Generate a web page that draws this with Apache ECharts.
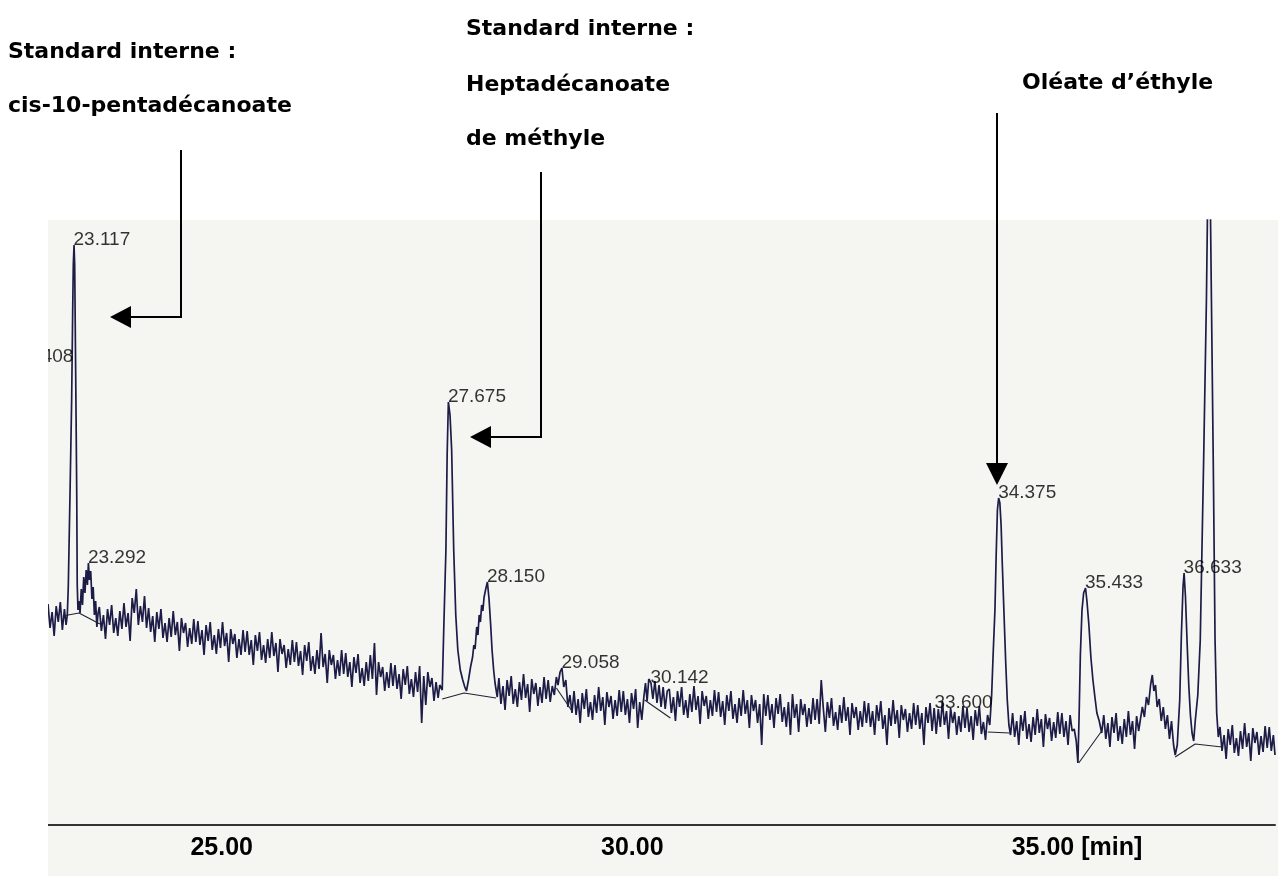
<!DOCTYPE html>
<html><head><meta charset="utf-8">
<script src="https://cdn.jsdelivr.net/npm/echarts@6.0.0/dist/echarts.min.js"></script>
<style>html,body{margin:0;padding:0;background:#fff}#c{width:1278px;height:876px}</style>
</head><body><div id="c"></div>
<script>
// ---- data (time in min, detector response in arbitrary units) ----
const tickValues = [25, 30, 35];
const tickLabels = ['25.00', '30.00', '35.00 [min]'];

const peakTimes  = [22.408, 23.117, 23.292, 27.675, 28.150, 29.058, 30.142, 33.600, 34.375, 35.433, 36.633];
const peakApex   = [463, 580, 262, 423, 243, 157, 142, 117, 327, 237, 252];
const peakLabels = ['22.408','23.117','23.292','27.675','28.150','29.058','30.142','33.600','34.375','35.433','36.633'];

const trace = [
[22.800,221],[22.825,197],[22.850,213],[22.875,189],[22.900,219],[22.925,203],[22.950,223],[22.975,195],[23.000,216],[23.020,200],[23.035,210],
[23.047,238],[23.07,340],[23.088,425],[23.10,510],[23.108,560],[23.117,580],[23.125,560],[23.14,425],[23.15,330],[23.156,240],[23.165,215],[23.175,224],
[23.19,212],[23.205,236],[23.22,220],[23.235,248],[23.25,232],[23.265,255],[23.28,240],[23.292,262],[23.305,245],[23.32,254],[23.335,226],[23.35,238],[23.365,210],[23.38,224],[23.395,198],[23.41,212],
[23.425,218],[23.450,194],[23.475,210],[23.500,186],[23.525,216],[23.550,200],[23.575,220],[23.600,192],[23.625,207],[23.650,189],[23.675,214],[23.700,196],
[23.725,222],[23.750,198],[23.775,212],[23.800,184],[23.825,227],[23.850,212],[23.875,236],[23.900,200],[23.925,219],[23.950,203],[23.975,229],[24.000,197],
[24.025,217],[24.050,193],[24.075,209],[24.100,183],[24.125,213],[24.150,196],[24.175,216],[24.200,187],[24.225,202],[24.250,183],[24.275,207],[24.300,188],
[24.325,214],[24.350,190],[24.375,203],[24.400,174],[24.425,207],[24.450,192],[24.475,202],[24.500,178],[24.525,197],[24.550,181],[24.575,206],[24.600,183],
[24.625,204],[24.650,180],[24.675,195],[24.700,170],[24.725,200],[24.750,184],[24.775,203],[24.800,175],[24.825,190],[24.850,171],[24.875,196],[24.900,177],
[24.925,203],[24.950,179],[24.975,192],[25.000,163],[25.025,196],[25.050,181],[25.075,191],[25.100,167],[25.125,186],[25.150,170],[25.175,195],[25.200,173],
[25.225,194],[25.250,170],[25.275,185],[25.300,160],[25.325,190],[25.350,174],[25.375,193],[25.400,165],[25.425,180],[25.450,162],[25.475,186],[25.500,167],
[25.525,193],[25.550,169],[25.575,182],[25.600,153],[25.625,186],[25.650,171],[25.675,180],[25.700,157],[25.725,176],[25.750,160],[25.775,185],[25.800,163],
[25.825,183],[25.850,159],[25.875,174],[25.900,150],[25.925,180],[25.950,164],[25.975,183],[26.000,154],[26.025,169],[26.050,151],[26.075,175],[26.100,156],
[26.125,192],[26.150,158],[26.175,171],[26.200,142],[26.225,175],[26.250,160],[26.275,170],[26.300,146],[26.325,165],[26.350,149],[26.375,175],[26.400,151],
[26.425,172],[26.450,148],[26.475,163],[26.500,138],[26.525,168],[26.550,152],[26.575,171],[26.600,142],[26.625,157],[26.650,139],[26.675,163],[26.700,144],
[26.725,170],[26.750,146],[26.775,182],[26.800,130],[26.825,163],[26.850,148],[26.875,158],[26.900,134],[26.925,153],[26.950,137],[26.975,162],[27.000,139],
[27.025,160],[27.050,136],[27.075,151],[27.100,126],[27.125,156],[27.150,140],[27.175,159],[27.200,131],[27.225,146],[27.250,128],[27.275,153],[27.300,133],
[27.325,159],[27.350,102],[27.375,149],[27.400,120],[27.425,153],[27.450,138],[27.475,147],[27.500,124],[27.525,143],[27.550,127],[27.570,140],
[27.60,135],[27.62,200],[27.645,275],[27.66,370],[27.675,423],[27.695,410],[27.715,375],[27.74,275],[27.765,210],[27.79,175],[27.82,155],[27.85,145],[27.875,138],[27.895,134],
[27.92,145],[27.945,158],[27.97,168],[27.985,180],[28.00,176],[28.02,198],[28.035,190],[28.05,210],[28.065,203],[28.08,220],[28.095,214],[28.11,228],[28.13,236],[28.15,243],
[28.17,226],[28.19,200],[28.206,176],[28.225,156],[28.243,142],[28.27,128],
[28.290,147],[28.315,121],[28.340,139],[28.365,115],[28.390,145],[28.415,129],[28.440,149],[28.465,121],[28.490,136],[28.515,118],[28.540,143],[28.565,125],
[28.590,151],[28.615,127],[28.640,141],[28.665,113],[28.690,146],[28.715,131],[28.740,142],[28.765,119],[28.790,138],[28.815,122],[28.840,148],[28.865,126],
[28.890,145],[28.915,123],[28.940,139],
[28.965,130],[28.99,148],[29.01,140],[29.035,153],[29.058,157],[29.08,138],[29.105,145],[29.13,118],[29.155,130],[29.18,112],
[29.205,134],[29.230,110],[29.255,126],[29.280,102],[29.305,132],[29.330,116],[29.355,136],[29.380,108],[29.405,123],[29.430,105],[29.455,130],[29.480,112],
[29.505,138],[29.530,114],[29.555,128],[29.580,100],[29.605,133],[29.630,118],[29.655,129],[29.680,106],[29.705,125],[29.730,109],[29.755,135],[29.780,113],
[29.805,134],[29.830,110],[29.855,126],[29.880,102],[29.905,132],[29.930,116],[29.955,136],[29.980,97],[30.005,123],[30.030,105],
[30.055,128],[30.075,142],[30.095,124],[30.115,146],[30.142,142],[30.165,126],[30.19,144],[30.215,122],[30.24,140],[30.265,118],[30.29,138],[30.315,116],[30.34,134],
[30.365,136],[30.390,112],[30.415,128],[30.440,104],[30.465,134],[30.490,118],[30.515,138],[30.540,110],[30.565,125],[30.590,107],[30.615,131],[30.640,113],
[30.665,139],[30.690,115],[30.715,129],[30.740,101],[30.765,134],[30.790,119],[30.815,129],[30.840,106],[30.865,125],[30.890,109],[30.915,135],[30.940,113],
[30.965,133],[30.990,108],[31.015,124],[31.040,100],[31.065,130],[31.090,114],[31.115,134],[31.140,106],[31.165,121],[31.190,102],[31.215,127],[31.240,109],
[31.265,135],[31.290,111],[31.315,125],[31.340,97],[31.365,130],[31.390,114],[31.415,125],[31.440,102],[31.465,121],[31.490,80],[31.515,131],[31.540,109],
[31.565,130],[31.590,105],[31.615,121],[31.640,97],[31.665,127],[31.690,111],[31.715,131],[31.740,103],[31.765,118],[31.790,98],[31.815,123],[31.840,90],
[31.865,131],[31.890,107],[31.915,121],[31.940,93],[31.965,126],[31.990,110],[32.015,121],[32.040,98],[32.065,117],[32.090,101],[32.115,127],[32.140,105],
[32.165,126],[32.190,101],[32.215,145],[32.240,117],[32.265,93],[32.290,123],[32.315,107],[32.340,127],[32.365,99],[32.390,113],[32.415,95],[32.440,120],
[32.465,102],[32.490,128],[32.515,104],[32.540,118],[32.565,90],[32.590,122],[32.615,107],[32.640,118],[32.665,95],[32.690,114],[32.715,98],[32.740,124],
[32.765,102],[32.790,122],[32.815,98],[32.840,114],[32.865,90],[32.890,120],[32.915,104],[32.940,124],[32.965,96],[32.990,110],[33.015,80],[33.040,117],
[33.065,99],[33.090,125],[33.115,101],[33.140,115],[33.165,87],[33.190,120],[33.215,105],[33.240,116],[33.265,93],[33.290,112],[33.315,96],[33.340,122],
[33.365,100],[33.390,120],[33.415,96],[33.440,112],[33.465,80],[33.490,118],[33.515,102],[33.540,122],[33.565,94],[33.590,117],[33.615,91],[33.640,116],
[33.665,98],[33.690,124],[33.715,100],[33.740,114],[33.765,86],[33.790,117],[33.815,102],[33.840,113],[33.865,90],[33.890,109],[33.915,93],[33.940,119],
[33.965,97],[33.990,117],[34.015,93],[34.040,109],[34.065,85],[34.090,115],[34.115,99],[34.140,119],[34.165,91],[34.190,103],[34.215,85],[34.240,110],
[34.267,100],[34.29,130],[34.31,175],[34.33,215],[34.345,270],[34.36,315],[34.375,327],[34.39,322],[34.405,300],[34.42,260],[34.44,212],[34.46,165],[34.48,125],[34.50,100],[34.52,90],
[34.545,112],[34.570,88],[34.595,104],[34.620,80],[34.645,110],[34.670,94],[34.695,114],[34.720,86],[34.745,101],[34.770,83],[34.795,108],[34.820,90],
[34.845,116],[34.870,92],[34.895,106],[34.920,78],[34.945,111],[34.970,96],[34.995,107],[35.020,84],[35.045,103],[35.070,87],[35.095,113],[35.120,91],
[35.145,112],[35.170,88],[35.195,104],[35.220,80],[35.245,110],[35.270,94],[35.295,96],[35.320,84],
[35.34,62],[35.355,110],[35.37,170],[35.39,215],[35.41,232],[35.433,237],[35.45,224],[35.474,200],[35.498,168],[35.523,145],[35.547,128],[35.571,112],[35.60,104],[35.63,92],
[35.655,110],[35.680,86],[35.705,102],[35.730,78],[35.755,108],[35.780,92],[35.805,112],[35.830,84],[35.855,99],[35.880,81],[35.905,106],[35.930,88],
[35.955,114],[35.980,90],[36.005,104],[36.030,76],[36.055,109],[36.080,94],
[36.10,105],[36.125,118],[36.15,108],[36.175,128],[36.20,120],[36.225,140],[36.246,150],[36.265,134],[36.285,140],[36.305,118],[36.33,126],[36.355,104],
[36.38,118],[36.405,96],[36.43,110],[36.455,86],[36.48,104],[36.505,80],[36.525,70],
[36.55,80],[36.58,125],[36.60,190],[36.62,238],[36.633,252],[36.65,228],[36.67,182],[36.69,140],[36.71,110],[36.73,92],[36.75,84],
[36.77,105],[36.80,130],[36.83,185],[36.87,360],[36.905,525],[36.925,660],[36.945,680],[36.966,525],[36.99,350],[37.01,185],[37.03,112],[37.05,88],
[37.070,98],[37.095,74],[37.120,90],[37.145,66],[37.170,96],[37.195,80],[37.220,100],[37.245,72],[37.270,87],[37.295,69],[37.320,94],[37.345,76],
[37.370,102],[37.395,78],[37.420,92],[37.445,64],[37.470,97],[37.495,82],[37.520,93],[37.545,70],[37.570,89],[37.595,73],[37.620,99],[37.645,77],
[37.670,98],[37.695,74],[37.720,90],[37.740,70]
];

const integrationBaselines = [
  [[22.98,209],[23.177,212],[23.432,201]],
  [[27.60,126],[27.866,132],[28.255,127]],
  [[28.99,137],[29.18,114]],
  [[30.064,125],[30.378,107]],
  [[34.243,93],[34.51,92]],
  [[35.35,62],[35.63,94]],
  [[36.525,68],[36.768,81],[37.096,78]]
];

const annotationTexts = [
  {text: 'Standard interne :', x: 8, y: 52},
  {text: 'cis-10-pentadécanoate', x: 8, y: 106},
  {text: 'Standard interne :', x: 466, y: 29},
  {text: 'Heptadécanoate', x: 466, y: 85},
  {text: 'de méthyle', x: 466, y: 139},
  {text: 'Oléate d’éthyle', x: 1022, y: 83}
];

// ---- chart ----
const chart = echarts.init(document.getElementById('c'), null, {renderer: 'canvas'});
const TRACE = '#1c1c46';
const annoFont = 'bold 22px "DejaVu Sans"';

const graphics = [
  {type: 'rect', shape: {x: 48, y: 220, width: 1230, height: 656}, style: {fill: '#f5f5f2'}, z: -10, silent: true},
  {type: 'rect', shape: {x: 0, y: 200, width: 48, height: 676}, style: {fill: '#ffffff'}, z: 100, silent: true},
  {type: 'polyline', shape: {points: [[181,150],[181,317],[128,317]]}, style: {stroke: '#000', lineWidth: 2, fill: null}, z: 50},
  {type: 'polygon', shape: {points: [[110,317],[131,306],[131,328]]}, style: {fill: '#000'}, z: 50},
  {type: 'polyline', shape: {points: [[541,172],[541,437],[488,437]]}, style: {stroke: '#000', lineWidth: 2, fill: null}, z: 50},
  {type: 'polygon', shape: {points: [[470,437],[491,426],[491,448]]}, style: {fill: '#000'}, z: 50},
  {type: 'polyline', shape: {points: [[997,113],[997,465]]}, style: {stroke: '#000', lineWidth: 2, fill: null}, z: 50},
  {type: 'polygon', shape: {points: [[997,485],[986,463],[1008,463]]}, style: {fill: '#000'}, z: 50}
];
annotationTexts.forEach(a => graphics.push({
  type: 'text', z: 50,
  style: {text: a.text, x: a.x, y: a.y, fill: '#000', font: annoFont, align: 'left', verticalAlign: 'middle'}
}));

const series = [
  {
    type: 'line', name: 'signal', data: trace, showSymbol: false, symbol: 'none',
    lineStyle: {color: TRACE, width: 1.7}, clip: true, z: 3, silent: true
  }
];
integrationBaselines.forEach(seg => series.push({
  type: 'line', data: seg, showSymbol: false, symbol: 'none',
  lineStyle: {color: '#222238', width: 1.1}, clip: true, z: 4, silent: true
}));
series.push({
  type: 'scatter', name: 'peaks',
  data: peakTimes.map((t, i) => ({value: [t, peakApex[i]], name: peakLabels[i]})),
  symbolSize: 1, itemStyle: {color: 'rgba(0,0,0,0)'}, clip: false, z: 6, silent: true,
  label: {
    show: true, formatter: p => p.name, position: [0, 0], align: 'left', verticalAlign: 'middle',
    offset: [0, -5], color: '#000', fontSize: 19, fontFamily: '"Liberation Sans", Arial, sans-serif'
  }
});

chart.setOption({
  animation: false,
  backgroundColor: '#ffffff',
  grid: {left: 48, right: 0, top: 220, bottom: 51, containLabel: false},
  xAxis: {
    type: 'value', min: 22.8, max: 37.74, splitNumber: 3,
    axisLine: {show: true, lineStyle: {color: '#333', width: 2}},
    axisTick: {show: false}, splitLine: {show: false},
    axisLabel: {
      show: true, margin: 11, color: '#000', fontSize: 25, fontWeight: 'bold',
      fontFamily: '"Liberation Sans", Arial, sans-serif',
      padding: [0, 14, 0, 0],
      formatter: v => {
        const i = tickValues.findIndex(tv => Math.abs(tv - v) < 1e-6);
        if (i < 0) return '';
        const lab = tickLabels[i];
        return lab.indexOf('[') >= 0 ? '{sp|}' + lab : lab;
      },
      rich: {sp: {width: 68}}
    }
  },
  yAxis: {type: 'value', min: 0, max: 605, show: false},
  graphic: graphics,
  series: series
});
</script></body></html>
